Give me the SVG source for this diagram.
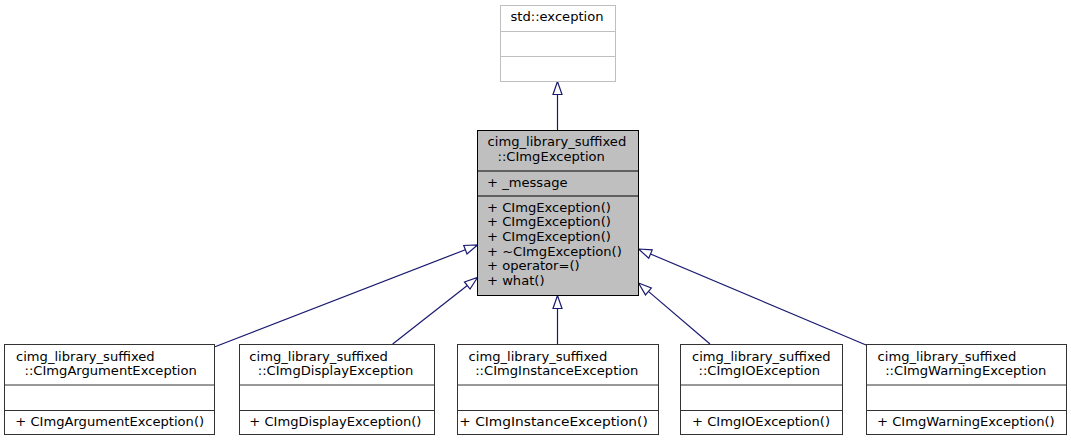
<svg xmlns="http://www.w3.org/2000/svg" width="1071" height="441" viewBox="0 0 1071 441">
<style>
  text { font-family: "DejaVu Sans", "Liberation Sans", sans-serif; font-size: 13.1px; fill: #000; }
  .box { fill: #fff; stroke: #333; stroke-width: 1; }
  .ext { fill: #fff; stroke: #bfbfbf; stroke-width: 1; }
  .main { fill: #bfbfbf; stroke: #000; stroke-width: 1; }
  .div { stroke: #333; stroke-width: 1; fill: none; }
  .divx { stroke: #bfbfbf; stroke-width: 1; fill: none; }
  .divm { stroke: #000; stroke-width: 1; fill: none; }
  .edge { stroke: #191970; stroke-width: 1.2; fill: none; }
  .head { stroke: #191970; stroke-width: 1.2; fill: #fff; }
  .mid { text-anchor: middle; }
</style>
<rect width="1071" height="441" fill="#fff"/>

<g id="connectors">
  <path class="edge" d="M557.5,130.5 L557.5,94.5"/>
  <polygon class="head" points="557.5,81.5 553,94.5 562,94.5"/>
  <path class="edge" d="M215,346.7 L465.4,249.7"/>
  <polygon class="head" points="477.5,245 467,253.9 463.75,245.5"/>
  <path class="edge" d="M392.7,344 L467.3,285.5"/>
  <polygon class="head" points="477.5,277.5 470.05,289.06 464.49,281.98"/>
  <path class="edge" d="M557.5,344.5 L557.5,308.5"/>
  <polygon class="head" points="557.5,295.5 553,308.5 562,308.5"/>
  <path class="edge" d="M710,344 L648.4,291.4"/>
  <polygon class="head" points="638.5,283 651.31,288.02 645.47,294.86"/>
  <path class="edge" d="M866,345 L650.5,254"/>
  <polygon class="head" points="638.5,249 652.23,249.91 648.73,258.2"/>
</g>

<g id="node-std-exception">
  <rect class="ext" x="500.5" y="5.5" width="115" height="76"/>
  <line class="divx" x1="500.5" y1="31.5" x2="615.5" y2="31.5"/>
  <line class="divx" x1="500.5" y1="56.5" x2="615.5" y2="56.5"/>
  <text class="mid" x="557" y="20.5">std::exception</text>
</g>

<g id="node-CImgException">
  <rect class="main" x="477.5" y="130.5" width="161" height="165"/>
  <line class="divm" x1="477.5" y1="171" x2="638.5" y2="171"/>
  <line class="divm" x1="477.5" y1="196" x2="638.5" y2="196"/>
  <text x="487.6" y="146">cimg_library_suffixed</text>
  <text x="497.5" y="161">::CImgException</text>
  <text x="487" y="186.5">+ _message</text>
  <text x="487" y="211.5">+ CImgException()</text>
  <text x="487" y="226.2">+ CImgException()</text>
  <text x="487" y="240.9">+ CImgException()</text>
  <text x="487" y="255.6">+ ~CImgException()</text>
  <text x="487" y="270.3">+ operator=()</text>
  <text x="487" y="285">+ what()</text>
</g>

<g id="node-CImgArgumentException">
  <rect class="box" x="4.5" y="344.5" width="210" height="90"/>
  <line class="div" x1="4.5" y1="385" x2="214.5" y2="385"/>
  <line class="div" x1="4.5" y1="410.5" x2="214.5" y2="410.5"/>
  <text x="16" y="361">cimg_library_suffixed</text>
  <text x="24.5" y="375">::CImgArgumentException</text>
  <text x="15.3" y="425.5">+ CImgArgumentException()</text>
</g>

<g id="node-CImgDisplayException">
  <rect class="box" x="239.5" y="344.5" width="195" height="90"/>
  <line class="div" x1="239.5" y1="385" x2="434.5" y2="385"/>
  <line class="div" x1="239.5" y1="410.5" x2="434.5" y2="410.5"/>
  <text x="249.3" y="361">cimg_library_suffixed</text>
  <text x="257.8" y="375">::CImgDisplayException</text>
  <text x="249.3" y="425.5">+ CImgDisplayException()</text>
</g>

<g id="node-CImgInstanceException">
  <rect class="box" x="457.5" y="344.5" width="201" height="90"/>
  <line class="div" x1="457.5" y1="385" x2="658.5" y2="385"/>
  <line class="div" x1="457.5" y1="410.5" x2="658.5" y2="410.5"/>
  <text x="468.6" y="361">cimg_library_suffixed</text>
  <text x="475.2" y="375">::CImgInstanceException</text>
  <text x="459.3" y="425.5" textLength="188.5" lengthAdjust="spacingAndGlyphs">+ CImgInstanceException()</text>
</g>

<g id="node-CImgIOException">
  <rect class="box" x="680.5" y="344.5" width="162" height="90"/>
  <line class="div" x1="680.5" y1="385" x2="842.5" y2="385"/>
  <line class="div" x1="680.5" y1="410.5" x2="842.5" y2="410.5"/>
  <text x="692" y="361">cimg_library_suffixed</text>
  <text x="698.5" y="375">::CImgIOException</text>
  <text x="692" y="425.5">+ CImgIOException()</text>
</g>

<g id="node-CImgWarningException">
  <rect class="box" x="866.5" y="344.5" width="200" height="90"/>
  <line class="div" x1="866.5" y1="385" x2="1066.5" y2="385"/>
  <line class="div" x1="866.5" y1="410.5" x2="1066.5" y2="410.5"/>
  <text x="877.6" y="361">cimg_library_suffixed</text>
  <text x="885.2" y="375">::CImgWarningException</text>
  <text x="877" y="425.5">+ CImgWarningException()</text>
</g>
</svg>
